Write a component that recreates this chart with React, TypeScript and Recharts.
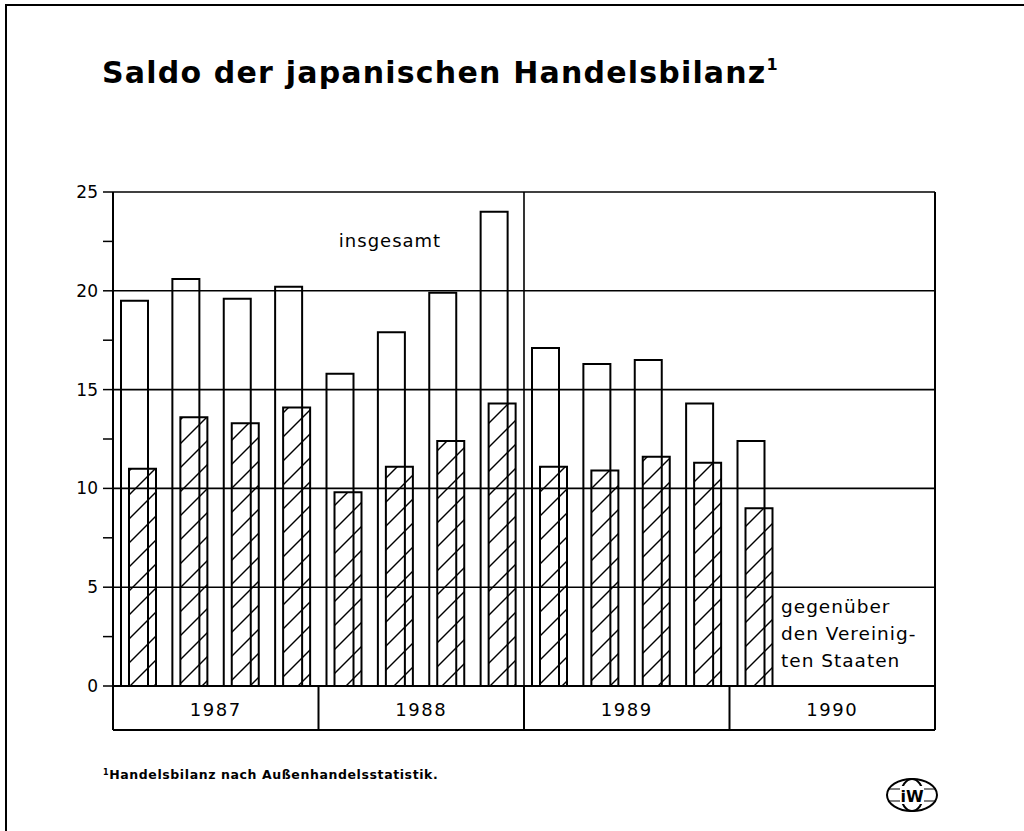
import React from 'react';
import { ComposedChart, Bar, XAxis, YAxis, ReferenceLine } from 'recharts';

// Quarterly data, 1987 Q1 – 1990 Q1 (Mrd US-$)
const quarters = ['I/87', 'II/87', 'III/87', 'IV/87', 'I/88', 'II/88', 'III/88', 'IV/88', 'I/89', 'II/89', 'III/89', 'IV/89', 'I/90'];
const totalValues = [19.5, 20.6, 19.6, 20.2, 15.8, 17.9, 19.9, 24.0, 17.1, 16.3, 16.5, 14.3, 12.4];
const usValues = [11.0, 13.6, 13.3, 14.1, 9.8, 11.1, 12.4, 14.3, 11.1, 10.9, 11.6, 11.3, 9.0];
const years = ['1987', '1988', '1989', '1990'];
const yTicks = [0, 2.5, 5, 7.5, 10, 12.5, 15, 17.5, 20, 22.5, 25];
const gridValues = [5, 10, 15, 20, 25];
const quartersPerYear = 4;
const xTicks = [0, 2, 4, 6, 8, 10, 12, 14, 16];

const data = quarters.map((q, i) => ({
  q,
  x: i + 0.5,
  total: totalValues[i],
  us: usValues[i],
}));

const FONT = '"DejaVu Sans", sans-serif';

const YTick = (props: any) => {
  const { x, y, payload } = props;
  const v = payload.value;
  if (v % 5 !== 0) return <g />;
  return (
    <text x={x} y={y} dy={6} textAnchor="end" fontFamily={FONT} fontSize={17} fill="#000">
      {v}
    </text>
  );
};

const YearTick = (props: any) => {
  const { x, y, payload } = props;
  const v = payload.value;
  if (v % quartersPerYear === 0) {
    return <line x1={x} x2={x} y1={y} y2={y + 44} stroke="#000" strokeWidth={2} />;
  }
  const idx = Math.floor(v / quartersPerYear);
  return (
    <text x={x} y={y} dy={30} textAnchor="middle" fontFamily={FONT} fontSize={18} letterSpacing={1.5} fill="#000">
      {years[idx]}
    </text>
  );
};

export default function App() {
  return (
    <div style={{ position: 'absolute', left: 0, top: 0, width: 1024, height: 831, background: '#fff', overflow: 'hidden' }}>
      <ComposedChart
        width={1024}
        height={831}
        data={data}
        margin={{ top: 192, right: 89, bottom: 100, left: 53 }}
        barGap={-19}
      >
        <defs>
          <pattern id="hatch" patternUnits="userSpaceOnUse" width="24" height="24">
            <line x1="-6" y1="30" x2="30" y2="-6" stroke="#000" strokeWidth="1.4" />
            <line x1="-6" y1="6" x2="6" y2="-6" stroke="#000" strokeWidth="1.4" />
            <line x1="18" y1="30" x2="30" y2="18" stroke="#000" strokeWidth="1.4" />
          </pattern>
        </defs>
        <XAxis
          dataKey="x"
          type="number"
          domain={[0, 16]}
          ticks={xTicks}
          interval={0}
          height={44}
          tickSize={0}
          tickMargin={0}
          tickLine={false}
          axisLine={{ stroke: '#000', strokeWidth: 2 }}
          tick={<YearTick />}
        />
        <XAxis
          xAxisId="b"
          type="number"
          domain={[0, 16]}
          height={1}
          tick={false}
          tickLine={false}
          axisLine={{ stroke: '#000', strokeWidth: 2 }}
        />
        <YAxis
          type="number"
          domain={[0, 25]}
          ticks={yTicks}
          interval={0}
          width={60}
          tickSize={10}
          tickMargin={5}
          tickLine={{ stroke: '#000', strokeWidth: 1.5 }}
          axisLine={{ stroke: '#000', strokeWidth: 2 }}
          tick={<YTick />}
        />
        {gridValues.map((g) => (
          <ReferenceLine key={g} y={g} stroke="#000" strokeWidth={1.6} />
        ))}
        <ReferenceLine x={8} stroke="#000" strokeWidth={1.6} />
        <ReferenceLine x={16} stroke="#000" strokeWidth={2} />
        <Bar dataKey="total" barSize={27} fill="none" stroke="#000" strokeWidth={2} isAnimationActive={false} />
        <Bar dataKey="us" barSize={27} fill="url(#hatch)" stroke="#000" strokeWidth={2} isAnimationActive={false} />
      </ComposedChart>

      <svg width={1024} height={831} style={{ position: 'absolute', left: 0, top: 0, pointerEvents: 'none' }}>
        <polyline points="6,831 6,5 1024,5" fill="none" stroke="#000" strokeWidth={2} />
        <text x={102} y={83} fontFamily={FONT} fontWeight="bold" fontSize={30} letterSpacing={1.2} fill="#000">
          Saldo der japanischen Handelsbilanz
          <tspan dy={-13} fontSize={16}>1</tspan>
        </text>
        <text x={390} y={247} textAnchor="middle" fontFamily={FONT} fontSize={18} letterSpacing={1} fill="#000">
          insgesamt
        </text>
        <text x={781} y={613} fontFamily={FONT} fontSize={18.5} letterSpacing={1} fill="#000">gegenüber</text>
        <text x={781} y={640} fontFamily={FONT} fontSize={18.5} letterSpacing={1} fill="#000">den Vereinig-</text>
        <text x={781} y={667} fontFamily={FONT} fontSize={18.5} letterSpacing={1} fill="#000">ten Staaten</text>
        <text x={103} y={779} fontFamily={FONT} fontWeight="bold" fontSize={12.5} letterSpacing={0.6} fill="#000">
          <tspan dy={-4} fontSize={8}>1</tspan>
          <tspan dy={4}>Handelsbilanz nach Außenhandelsstatistik.</tspan>
        </text>
        <g stroke="#000" strokeWidth={2} fill="none">
          <ellipse cx={912} cy={795} rx={25} ry={16} />
          <ellipse cx={912} cy={795} rx={11} ry={16} />
          <line x1={888} y1={789} x2={936} y2={789} strokeWidth={1.2} />
          <line x1={888} y1={801} x2={936} y2={801} strokeWidth={1.2} />
        </g>
        <rect x={900} y={786} width={24} height={18} fill="#fff" />
        <text x={912} y={802} textAnchor="middle" fontFamily={FONT} fontWeight="bold" fontSize={16} fill="#000">iW</text>
      </svg>
    </div>
  );
}
